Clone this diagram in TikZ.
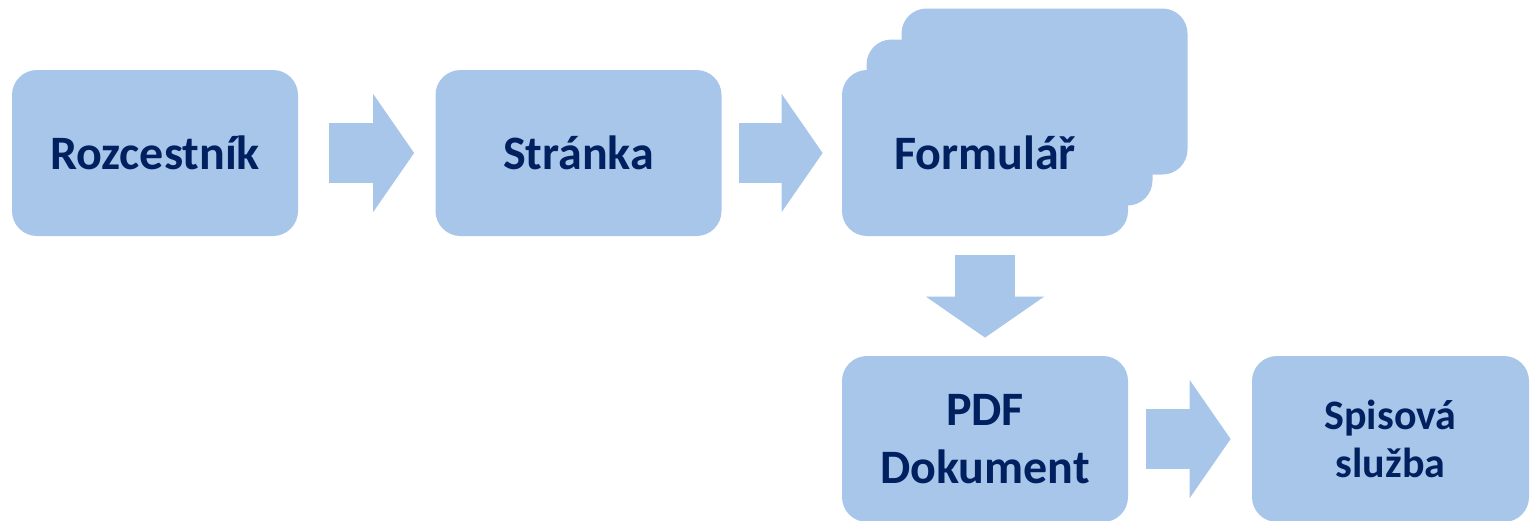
\documentclass[tikz,border=0pt]{standalone}
\usepackage{fontspec}
\setmainfont{Carlito}
\usetikzlibrary{arrows.meta}

\definecolor{boxblue}{HTML}{A8C6EA}
\definecolor{textnavy}{HTML}{002060}

\tikzset{
  stepbox/.style={fill=boxblue, rounded corners=12.5pt, minimum width=143pt,
    minimum height=83pt, inner sep=0pt, align=center, text=textnavy,
    font=\bfseries\fontsize{24}{29}\selectfont},
  blockarrow/.style={draw=boxblue, line width=30pt,
    -{Triangle[width=59pt,length=20.5pt,line width=1pt]}}
}

\begin{document}
\begin{tikzpicture}[x=0.5pt,y=-0.5pt]
  \useasboundingbox (0,0) rectangle (1530,520);

  % --- stacked sheets behind the form ---
  \foreach \dx/\dy/\n in {59.5/-61/back, 24.5/-30/mid} {
    \node[stepbox] (\n) at (985+\dx,152.5+\dy) {};
  }

  % --- steps ---
  \node[stepbox] (roz)  at (155,153)     {Rozcestník};
  \node[stepbox] (str)  at (578.5,153)   {Stránka};
  \node[stepbox] (form) at (985,153)     {Formulář};
  \node[stepbox] (pdf)  at (985,439)     {PDF\\Dokument};
  \node[stepbox, minimum width=138.5pt, font=\bfseries\fontsize{21}{24}\selectfont]
    (spis) at (1390.5,439) {Spisová\\služba};

  % --- block arrows ---
  \draw[blockarrow] ([xshift=15.5pt]roz.east) -- ([xshift=-10.5pt]str.west);
  \draw[blockarrow] ([xshift=8.5pt]str.east)  -- ([xshift=-9.5pt]form.west);
  \draw[blockarrow] ([yshift=-9.5pt]form.south) -- ([yshift=9pt]pdf.north);
  \draw[blockarrow] ([xshift=9pt]pdf.east)    -- ([xshift=-10.5pt]spis.west);
\end{tikzpicture}
\end{document}
